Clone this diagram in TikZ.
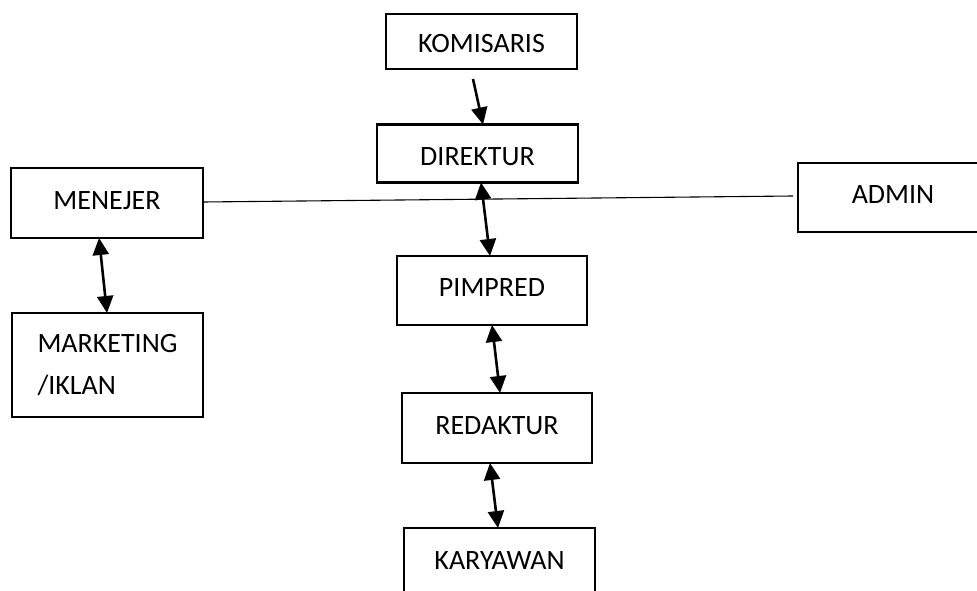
\documentclass[tikz,border=0pt]{standalone}
\usepackage{fontspec}
\setmainfont{Carlito}
\usetikzlibrary{arrows.meta}
\begin{document}
\begin{tikzpicture}[x=1pt,y=-1pt,
  box/.style={draw,line width=2.9pt,outer sep=0pt,inner sep=0pt,
    font=\fontsize{28}{42}\selectfont},
  mid/.style={text height=18pt,text depth=6pt},
  low/.style={text height=28pt,text depth=5pt},
  arr/.style={line width=2.6pt,-{Triangle[length=17pt,width=16pt]}},
  darr/.style={line width=2.6pt,{Triangle[length=17pt,width=16pt]}-{Triangle[length=17pt,width=16pt]}},
  linkline/.style={line width=1.1pt}]
\clip (0,0) rectangle (977,591);
\fill[white] (0,0) rectangle (977,591);
\node[box,low,minimum width=191pt,minimum height=55pt] (kom) at (481.5,41.5) {KOMISARIS};
\node[box,low,minimum width=201pt,minimum height=58pt] (dir) at (477.5,153.5) {DIREKTUR};
\node[box,mid,minimum width=192pt,minimum height=70pt] (men) at (107,203) {MENEJER};
\node[box,mid,minimum width=190pt,minimum height=69pt] (adm) at (893,197.5) {ADMIN};
\node[box,mid,minimum width=190pt,minimum height=69pt] (pim) at (492,290.5) {PIMPRED};
\node[box,align=left,minimum width=191pt,minimum height=104pt] (mkt) at (107.5,365) {MARKETING\\/IKLAN};
\node[box,mid,minimum width=190pt,minimum height=70pt] (red) at (497,428) {REDAKTUR};
\node[box,mid,minimum width=191pt,minimum height=70pt] (kar) at (499.5,563) {KARYAWAN};
\draw[arr] ([xshift=-8.5pt,yshift=-10pt]kom.south) -- ([xshift=5.5pt]dir.north);
\draw[darr] ([xshift=3.5pt]dir.south) -- ([xshift=-2pt]pim.north);
\draw[darr] (pim.south) -- ([xshift=3pt]red.north);
\draw[darr] ([xshift=-7pt]red.south) -- ([xshift=-1.5pt]kar.north);
\draw[darr] ([xshift=-8pt]men.south) -- ([xshift=-0.5pt]mkt.north);
\draw[linkline] ([yshift=1pt]men.east) -- ([xshift=-5pt,yshift=1.5pt]adm.west);
\end{tikzpicture}
\end{document}
